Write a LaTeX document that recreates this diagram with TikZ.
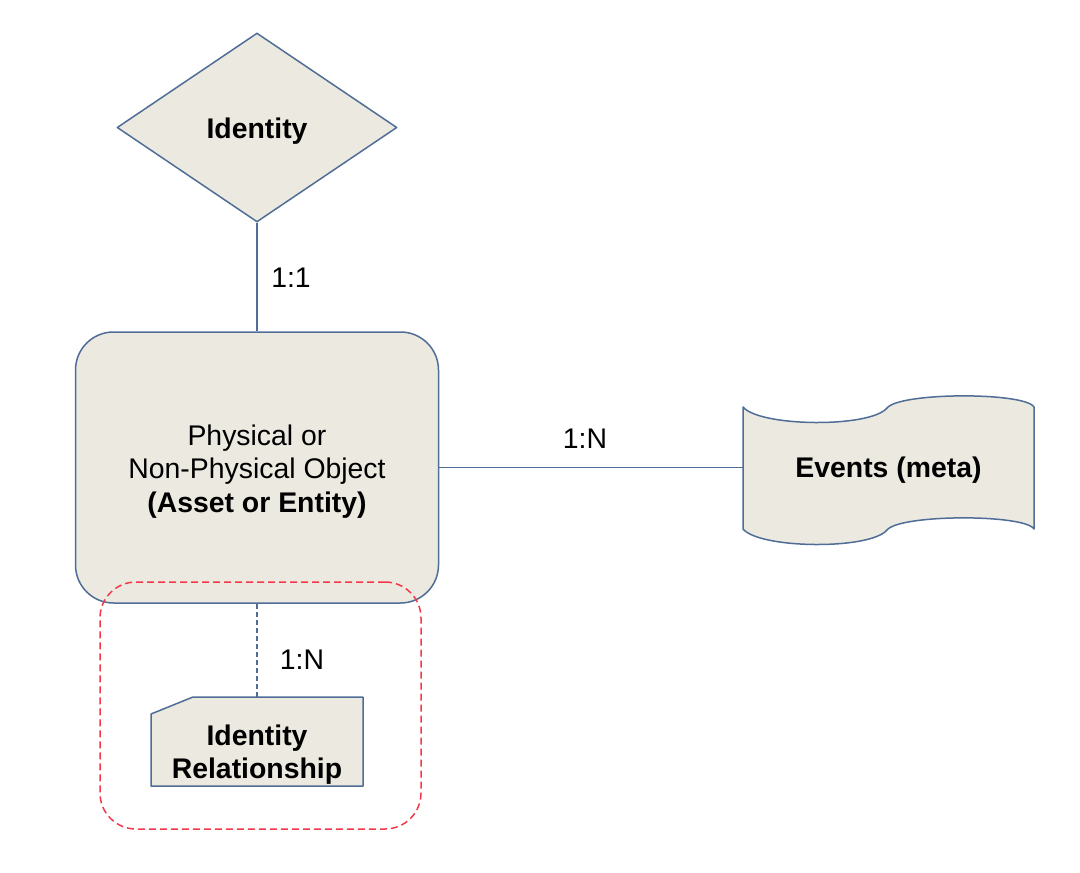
\documentclass[tikz,border=0pt]{standalone}
\usepackage{fontspec}
\setmainfont{Liberation Sans}
\usetikzlibrary{shapes.geometric}
\definecolor{edgeblue}{HTML}{4F6D96}
\definecolor{boxfill}{HTML}{ECEAE0}
\definecolor{redline}{HTML}{F5384A}
\begin{document}
\begin{tikzpicture}[x=1pt,y=-1pt,
  txt/.style={font=\fontsize{28.4}{33.5}\selectfont, align=center, text=black},
  shapeline/.style={draw=edgeblue, line width=1.5pt, fill=boxfill, line join=round},
  conn/.style={draw=edgeblue, line width=1.5pt},
  dashconn/.style={conn, dash pattern=on 5pt off 3pt},
  relbox/.style={shapeline, diamond, aspect=1.48, minimum width=280pt, minimum height=189pt, inner sep=0pt},
  objbox/.style={shapeline, rectangle, rounded corners=38pt, minimum width=363pt, minimum height=271pt, inner sep=0pt},
  plain/.style={inner sep=0pt, txt},
  groupbox/.style={draw=redline, line width=1.5pt, dash pattern=on 7pt off 4pt, rounded corners=36pt, minimum width=321pt, minimum height=247pt, inner sep=0pt},
  lbl/.style={inner sep=0pt, txt}
]
\useasboundingbox (0,0) rectangle (1080,873);

% Identity diamond
\node[relbox] (id) at (257,127.5) {};
\node[plain] (idtext) at (257,131) {\textbf{Identity}};

% Object box
\node[objbox] (obj) at (257,467.5) {};
\node[plain] (objtext) at (257,471.5) {Physical or\\Non-Physical Object\\\textbf{(Asset or Entity)}};

% Events (punched tape)
\draw[shapeline] (743,407) .. controls (760,427) and (870,428) .. (887,408)
  .. controls (900,392) and (1025,392) .. (1034,407)
  -- (1034,529) .. controls (1025,514) and (900,514) .. (887,530)
  .. controls (870,550) and (760,549) .. (743,529) -- cycle;
\node[inner sep=0pt, minimum width=291pt, minimum height=100pt] (ev) at (888.5,467.5) {};
\node[plain] (evtext) at (888.5,470.5) {\textbf{Events (meta)}};

% Identity Relationship card
\draw[shapeline] (151,714) -- (193,697) -- (363,697) -- (363,786) -- (151,786) -- cycle;
\coordinate (irtop) at (257,697);
\node[plain] (ir) at (257,754.5) {\textbf{Identity}\\\textbf{Relationship}};

% Group box
\node[groupbox] (grp) at (260.5,705.5) {};

% Connectors
\draw[conn] (id.south) -- (obj.north);
\draw[conn] (obj.east) -- (ev.west);
\draw[dashconn] (obj.south) -- (irtop);

% Labels
\node[lbl] (l11) at (291,277.5) {1:1};
\node[lbl] (l1n) at (585,438.5) {1:N};
\node[lbl] (l1nb) at (302,659.5) {1:N};
\end{tikzpicture}
\end{document}
